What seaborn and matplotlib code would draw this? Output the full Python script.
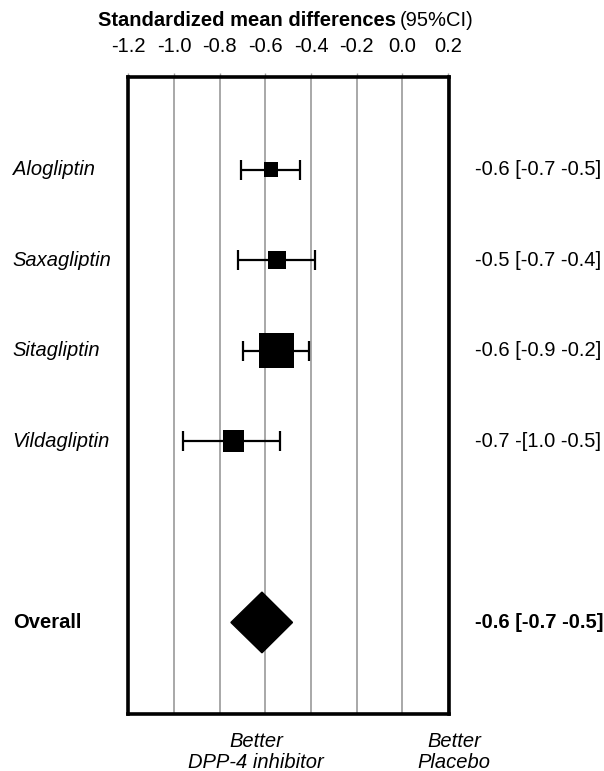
import numpy as np
import pandas as pd
import seaborn as sns
import matplotlib.pyplot as plt
from matplotlib.transforms import blended_transform_factory

# data
drugs = ["Alogliptin", "Saxagliptin", "Sitagliptin", "Vildagliptin"]
smd = [-0.574, -0.549, -0.552, -0.739]
ci_low = [-0.705, -0.720, -0.697, -0.961]
ci_high = [-0.448, -0.384, -0.407, -0.536]
weight = [9.3, 15.4, 53.3, 21.0]
ci_text = ["-0.6 [-0.7 -0.5]", "-0.5 [-0.7 -0.4]", "-0.6 [-0.9 -0.2]", "-0.7 -[1.0 -0.5]"]

overall_label = "Overall"
overall_smd = -0.615
overall_low = -0.751
overall_high = -0.481
overall_text = "-0.6 [-0.7 -0.5]"

xticks = [-1.2, -1.0, -0.8, -0.6, -0.4, -0.2, 0.0, 0.2]

sns.set_style("white")
plt.rcParams["font.family"] = ["Liberation Sans", "DejaVu Sans"]
plt.rcParams["text.color"] = "black"
plt.rcParams["xtick.labelcolor"] = "black"
FS = 14.5

df = pd.DataFrame({"drug": drugs, "smd": smd, "lo": ci_low, "hi": ci_high, "w": weight})
df["pos"] = np.arange(len(df))
overall_pos = len(df) + 1

fig = plt.figure(figsize=(6.04, 7.71), dpi=100)
ax = fig.add_axes([0.2127, 0.074, 0.5315, 0.826])

# vertical reference lines
for t in xticks:
    ax.axvline(t, color="#9a9a9a", lw=1.2, zorder=0)

# confidence intervals
ax.errorbar(df["smd"], df["pos"], xerr=[df["smd"] - df["lo"], df["hi"] - df["smd"]],
            fmt="none", ecolor="black", elinewidth=1.6, capsize=7, capthick=1.6, zorder=2)

# squares sized by weight (area proportional)
k = 11.5
sns.scatterplot(data=df, x="smd", y="pos", size="w", sizes=(min(weight) * k, max(weight) * k),
                size_norm=(min(weight), max(weight)), marker="s", color="black",
                edgecolor="black", linewidth=0, legend=False, ax=ax, zorder=3)

# overall diamond
half_h = 0.335
ax.fill([overall_low, overall_smd, overall_high, overall_smd],
        [overall_pos, overall_pos - half_h, overall_pos, overall_pos + half_h],
        color="black", zorder=3)

ax.set_xlim(-1.2, 0.207)
ax.set_ylim(overall_pos + 1.01, -1.02)
ax.set_xticks(xticks)
ax.set_xticklabels(["%.1f" % t for t in xticks], fontsize=FS)
ax.xaxis.tick_top()
ax.tick_params(axis="x", which="major", direction="out", length=3, width=1,
               color="#9a9a9a", labelcolor="black", pad=12, top=True, bottom=False)
ax.set_yticks([])
ax.set_xlabel("")
ax.set_ylabel("")
for s in ax.spines.values():
    s.set_visible(True)
    s.set_color("black")
    s.set_linewidth(2.6)

trans = blended_transform_factory(fig.transFigure, ax.transData)
for i, row in df.iterrows():
    ax.text(0.021, row["pos"], row["drug"], transform=trans, fontsize=FS,
            style="italic", ha="left", va="center", color="black")
    ax.text(0.786, row["pos"], ci_text[i], transform=trans, fontsize=FS,
            ha="left", va="center", color="black")
ax.text(0.021, overall_pos, overall_label, transform=trans, fontsize=FS,
        weight="bold", ha="left", va="center", color="black")
ax.text(0.786, overall_pos, overall_text, transform=trans, fontsize=FS,
        weight="bold", ha="left", va="center", color="black")

# title
fig.text(0.6557, 0.973, "Standardized mean differences", fontsize=FS,
         weight="bold", ha="right", va="center", color="black")
fig.text(0.662, 0.973, "(95%CI)", fontsize=FS, ha="left", va="center", color="black")

# bottom annotations
fig.text(0.424, 0.0246, "Better\nDPP-4 inhibitor", fontsize=FS, style="italic",
         ha="center", va="center", linespacing=1.1, color="black")
fig.text(0.752, 0.0246, "Better\nPlacebo", fontsize=FS, style="italic",
         ha="center", va="center", linespacing=1.1, color="black")

fig.savefig("out.png", dpi=100)
